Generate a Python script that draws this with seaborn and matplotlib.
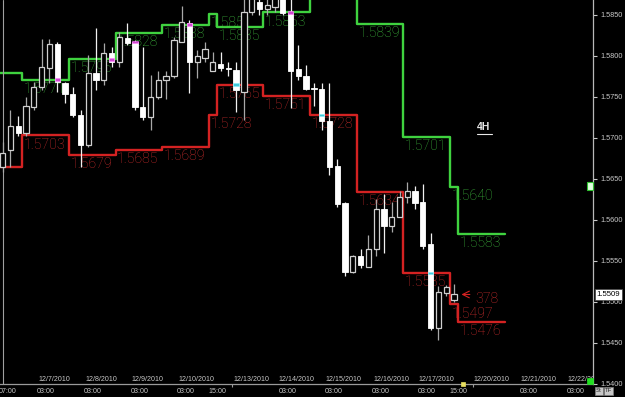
import matplotlib
matplotlib.use("Agg")
import matplotlib.pyplot as plt
from matplotlib.patches import Rectangle
import numpy as np
import pandas as pd
import seaborn as sns

# ---------------- data (4H candles) ----------------
opens = [1.5664, 1.5685, 1.5715, 1.5706, 1.5738, 1.5762, 1.5785, 1.5815, 1.5767, 1.5753,
         1.5728, 1.5691, 1.5779, 1.5771, 1.5804, 1.5793, 1.5822, 1.5817, 1.5738, 1.5726,
         1.5750, 1.5771, 1.5775, 1.5817, 1.5840, 1.5792, 1.5797, 1.5782, 1.5790, 1.5785,
         1.5783, 1.5756, 1.5854, 1.5866, 1.5857, 1.5860, 1.5875, 1.5852, 1.5784, 1.5775,
         1.5761, 1.5760, 1.5721, 1.5666, 1.5621, 1.5536, 1.5556, 1.5543, 1.5564, 1.5613,
         1.5593, 1.5604, 1.5628, 1.5635, 1.5622, 1.5570, 1.5468, 1.5511, 1.5502]
highs = [1.5695, 1.5734, 1.5727, 1.5750, 1.5768, 1.5821, 1.5821, 1.5817, 1.5768, 1.5762,
         1.5734, 1.5801, 1.5834, 1.5816, 1.5811, 1.5829, 1.5840, 1.5820, 1.5811, 1.5777,
         1.5781, 1.5782, 1.5823, 1.5861, 1.5844, 1.5807, 1.5817, 1.5805, 1.5805, 1.5792,
         1.5793, 1.5875, 1.5880, 1.5872, 1.5872, 1.5880, 1.5880, 1.5872, 1.5813, 1.5789,
         1.5767, 1.5767, 1.5767, 1.5674, 1.5622, 1.5557, 1.5564, 1.5581, 1.5625, 1.5631,
         1.5622, 1.5635, 1.5646, 1.5641, 1.5644, 1.5584, 1.5519, 1.5520, 1.5522]
lows = [1.5658, 1.5665, 1.5702, 1.5702, 1.5734, 1.5759, 1.5767, 1.5756, 1.5743, 1.5725,
        1.5665, 1.5689, 1.5759, 1.5765, 1.5787, 1.5787, 1.5813, 1.5734, 1.5722, 1.5710,
        1.5747, 1.5747, 1.5773, 1.5817, 1.5755, 1.5773, 1.5792, 1.5781, 1.5781, 1.5775,
        1.5731, 1.5722, 1.5850, 1.5850, 1.5850, 1.5853, 1.5850, 1.5737, 1.5771, 1.5758,
        1.5739, 1.5710, 1.5655, 1.5616, 1.5531, 1.5535, 1.5541, 1.5542, 1.5556, 1.5559,
        1.5585, 1.5603, 1.5621, 1.5613, 1.5564, 1.5466, 1.5453, 1.5507, 1.5500]
closes = [1.5682, 1.5715, 1.5706, 1.5739, 1.5762, 1.5787, 1.5815, 1.5768, 1.5753, 1.5728,
          1.5691, 1.5779, 1.5771, 1.5804, 1.5793, 1.5823, 1.5816, 1.5738, 1.5726, 1.5750,
          1.5771, 1.5775, 1.5820, 1.5841, 1.5792, 1.5800, 1.5809, 1.5792, 1.5785, 1.5784,
          1.5759, 1.5854, 1.5872, 1.5857, 1.5862, 1.5875, 1.5852, 1.5782, 1.5775, 1.5760,
          1.5760, 1.5720, 1.5665, 1.5619, 1.5536, 1.5556, 1.5545, 1.5565, 1.5613, 1.5593,
          1.5604, 1.5628, 1.5635, 1.5621, 1.5568, 1.5468, 1.5512, 1.5518, 1.5509]

# daily levels (previous-day high / low), segment boundaries in bar units
seg_bounds = [-1.0, 2.5, 8.5, 14.5, 20.5, 26.5, 27.5, 33.5, 39.5, 45.5, 51.5, 57.5, 58.5, 64.5]
high_levels = [1.5779, 1.5771, 1.5796, 1.5828, 1.5838, 1.5851, 1.5835, 1.5853, 1.5890,
               1.5839, 1.5701, 1.5640, 1.5583]
low_levels = [1.5665, 1.5703, 1.5679, 1.5685, 1.5689, 1.5728, 1.5765, 1.5751, 1.5728,
              1.5634, 1.5535, 1.5497, 1.5476]

# touch markers
magenta_bars = [7, 14, 17, 24, 37]
magenta_prices = [1.5771, 1.5796, 1.5817, 1.5838, 1.5853]
cyan_bars = [30, 41, 55]
cyan_prices = [1.5765, 1.5728, 1.5535]

y_ticks = [1.5400, 1.5450, 1.5500, 1.5550, 1.5600, 1.5650, 1.5700, 1.5750, 1.5800, 1.5850]
time_labels = ['07:00', '03:00', '03:00', '03:00', '03:00', '15:00', '03:00', '03:00',
               '03:00', '03:00', '15:00', '03:00', '03:00']
time_pos = [-0.48, 4.4, 10.45, 16.5, 22.4, 26.4, 35.5, 41.4, 47.45, 53.4, 57.4, 66.5, 72.5]
date_labels = ['12/7/2010', '12/8/2010', '12/9/2010', '12/10/2010', '12/13/2010',
               '12/14/2010', '12/15/2010', '12/16/2010', '12/17/2010', '12/20/2010',
               '12/21/2010', '12/22/2010']
date_pos = [4.55, 10.6, 16.6, 22.65, 29.6, 35.5, 41.45, 47.6, 53.5, 60.45, 66.6, 72.65]
last_price = 1.5509
range_text = '378'
timeframe = '4H'

# ---------------- style ----------------
sns.set_theme(style="dark", rc={"axes.facecolor": "black", "figure.facecolor": "black"})
plt.rcParams['font.family'] = ['Liberation Sans', 'DejaVu Sans']

fig = plt.figure(figsize=(6.25, 3.97), dpi=100)
fig.patch.set_facecolor('black')
ax = fig.add_axes([0, 13 / 397, 593 / 625, 384 / 397])
ax.set_facecolor('black')

GREEN = '#3fd23f'
GREEN_TXT = '#3cb43c'
RED = '#d42222'
RED_TXT = '#c82c2c'
LVL_FONT = dict(family=['Roboto', 'Liberation Sans'], weight='light', size=10.2)

# step lines
bx = seg_bounds
hy = high_levels + [high_levels[-1]]
ly = low_levels + [low_levels[-1]]
df_hi = pd.DataFrame({'x': bx, 'y': hy})
df_lo = pd.DataFrame({'x': bx, 'y': ly})
sns.lineplot(data=df_hi, x='x', y='y', ax=ax, color=GREEN, lw=1.7, estimator=None,
             sort=False, drawstyle='steps-post', zorder=1)
sns.lineplot(data=df_lo, x='x', y='y', ax=ax, color=RED, lw=1.7, estimator=None,
             sort=False, drawstyle='steps-post', zorder=1)

ylo, yhi = 1.53998, 1.58682
for i in range(1, len(high_levels)):
    if high_levels[i] < yhi:
        ax.annotate(f'{high_levels[i]:.4f}', (seg_bounds[i], high_levels[i]),
                    xytext=(1.2, -1.6), textcoords='offset points', ha='left', va='top',
                    color=GREEN_TXT, zorder=1.5, clip_on=True, **LVL_FONT)
    ax.annotate(f'{low_levels[i]:.4f}', (seg_bounds[i], low_levels[i]),
                xytext=(1.2, -1.6), textcoords='offset points', ha='left', va='top',
                color=RED_TXT, zorder=1.5, clip_on=True, **LVL_FONT)

# candles
x = np.arange(len(opens))
o = np.array(opens); c = np.array(closes); h = np.array(highs); l = np.array(lows)
bull = c >= o
ax.vlines(x[bull], l[bull], h[bull], color='#a8a8a8', lw=0.9, zorder=2)
ax.vlines(x[~bull], l[~bull], h[~bull], color='#f0f0f0', lw=0.9, zorder=2)
body_lo = np.minimum(o, c)
body_h = np.maximum(np.abs(c - o), 0.00009)
ax.bar(x[bull], body_h[bull], bottom=body_lo[bull], width=0.68, color='black',
       edgecolor='#cfcfcf', linewidth=0.9, zorder=3)
ax.bar(x[~bull], body_h[~bull], bottom=body_lo[~bull], width=0.68, color='white',
       edgecolor='white', linewidth=0.6, zorder=3)

# touch markers
ax.bar(magenta_bars, 0.00032, bottom=np.array(magenta_prices) - 0.00016, width=0.68,
       color='#d048d0', edgecolor='#ff80ff', linewidth=0.4, zorder=4)
ax.bar(cyan_bars, 0.00032, bottom=np.array(cyan_prices) - 0.00016, width=0.68,
       color='#40c8d8', edgecolor='#80f0ff', linewidth=0.4, zorder=4)

# left separator line
ax.axvline(0, color='#a0a0a0', lw=0.8, zorder=1.2)

# arrow and range text
ax.annotate('', xy=(58.6, last_price), xytext=(60.4, last_price),
            arrowprops=dict(arrowstyle='->', color=RED, lw=0.8), zorder=5)
ax.text(60.7, 1.5503, range_text, color=RED_TXT, ha='left', va='center', **LVL_FONT)

# 4H label
ax.text(61.0, 1.5713, timeframe, color='#e8e8e8', fontsize=7.5, fontweight='bold',
        ha='left', va='center')
ax.plot([61.0, 62.95], [1.57045, 1.57045], color='#e8e8e8', lw=0.8)

# axes
ax.set_xlim(-0.347, 75.87)
ax.set_ylim(ylo, yhi)
ax.yaxis.tick_right()
ax.set_yticks(y_ticks)
ax.set_yticklabels([f'{t:.4f}' for t in y_ticks])
ax.tick_params(axis='y', colors='#c8c8c8', labelsize=5.3, length=3, width=0.8,
               direction='out', pad=2, right=True, left=False)
ax.set_xticks([])
ax.set_xlabel('')
ax.set_ylabel('')
ax.grid(False)
for s in ['top', 'left']:
    ax.spines[s].set_visible(False)
ax.spines['right'].set_visible(True)
ax.spines['right'].set_color('#b8b8b8')
ax.spines['right'].set_linewidth(0.9)
ax.spines['bottom'].set_visible(True)
ax.spines['bottom'].set_color('#9a9a9a')
ax.spines['bottom'].set_linewidth(0.9)

xt = ax.get_xaxis_transform()
for p, t in zip(time_pos, time_labels):
    ax.text(p, -0.019, t, transform=xt, ha='left', va='center', color='#c8c8c8',
            fontsize=5.1, clip_on=False)
for p, t in zip(date_pos, date_labels):
    ax.text(p, 0.013, t, transform=xt, ha='left', va='center', color='#c8c8c8',
            fontsize=5.1, clip_on=True)
ax.vlines([29.45, 60.45], -0.009, 0.0, transform=xt, color='#9a9a9a', lw=0.8, clip_on=False)

# last price box
yt = ax.get_yaxis_transform()
ax.text(1.006, last_price, f'{last_price:.4f}', transform=yt, ha='left', va='center',
        fontsize=5.6, color='black', clip_on=False,
        bbox=dict(boxstyle='square,pad=0.2', facecolor='white', edgecolor='#404040', lw=0.5))

# small decorations (figure pixel coordinates)
def px_rect(x0, y0, w, hgt, **kw):
    fig.add_artist(Rectangle((x0 / 625, (397 - y0 - hgt) / 397), w / 625, hgt / 397,
                             transform=fig.transFigure, **kw))

px_rect(587, 182, 6, 8, facecolor='#e0ffe0', edgecolor='#30c030', lw=0.8)
px_rect(587, 378, 6, 6, facecolor='#22e022', edgecolor='#22e022', lw=0.5)
px_rect(461, 382, 4, 4, facecolor='#e8e060', edgecolor='#e8e060', lw=0.5)
px_rect(595, 387, 8, 8, facecolor='#c8c8c8', edgecolor='#808080', lw=0.5)
px_rect(604, 387, 9, 8, facecolor='#c8c8c8', edgecolor='#808080', lw=0.5)
fig.text(599 / 625, (397 - 391) / 397, 'St', fontsize=4.3, color='#202020',
         ha='center', va='center')
fig.text(608.5 / 625, (397 - 391) / 397, 'TF', fontsize=4.3, color='#202020',
         ha='center', va='center')

fig.savefig('out.png', dpi=100, facecolor='black')
